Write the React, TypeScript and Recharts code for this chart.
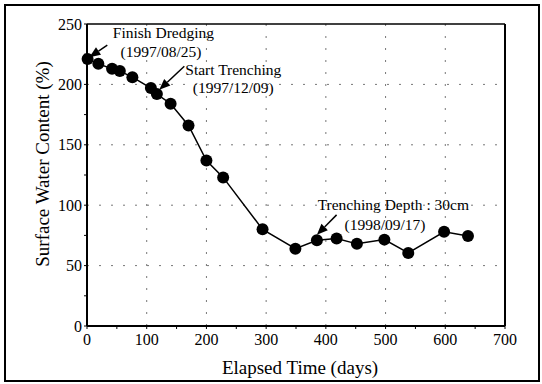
import React from 'react';
import {
  ComposedChart,
  Line,
  XAxis,
  YAxis,
  ReferenceLine,
  ReferenceDot,
  Label,
} from 'recharts';

const days = [1, 19, 42, 55, 76, 107, 117, 140, 170, 200, 228, 294, 349, 385, 418, 452, 498, 538, 598, 638];
const waterContent = [221, 217, 213, 211, 206, 197, 192, 184, 166, 137, 123, 80, 64, 71, 72.5, 68, 71.5, 60.5, 78, 74.5];

const xTicks = [0, 50, 100, 150, 200, 250, 300, 350, 400, 450, 500, 550, 600, 650, 700];
const yTicks = [0, 25, 50, 75, 100, 125, 150, 175, 200, 225, 250];
const xGrid = [100, 200, 300, 400, 500, 600];
const yGrid = [50, 100, 150, 200];

// annotation text (day, value, text)
const noteDays = [128, 124, 245, 245, 513, 499];
const noteValues = [243, 227, 212, 197.5, 100.5, 84];
const noteTexts = [
  'Finish Dredging',
  '(1997/08/25)',
  'Start Trenching',
  '(1997/12/09)',
  'Trenching Depth : 30cm',
  '(1998/09/17)',
];

// arrows: tail -> tip
const arrowFrom = [
  { x: 34, y: 232.5 },
  { x: 163, y: 215 },
  { x: 418, y: 92 },
];
const arrowTo = [
  { x: 4, y: 222.5 },
  { x: 121, y: 195.5 },
  { x: 385, y: 75.5 },
];

const data = days.map((d, i) => ({ day: d, value: waterContent[i] }));

const FONT = "'Liberation Serif', 'Times New Roman', serif";

const Arrow = (props: any) => {
  const { x1, y1, x2, y2 } = props;
  const ang = Math.atan2(y2 - y1, x2 - x1);
  const len = 11;
  const w = 4.5;
  const bx = x2 - len * Math.cos(ang);
  const by = y2 - len * Math.sin(ang);
  const px = -Math.sin(ang) * w;
  const py = Math.cos(ang) * w;
  return (
    <g>
      <line x1={x1} y1={y1} x2={bx} y2={by} stroke="#000" strokeWidth={1.5} />
      <polygon
        points={`${x2},${y2} ${bx + px},${by + py} ${bx - px},${by - py}`}
        fill="#000"
      />
    </g>
  );
};

export default function App() {
  return (
    <div style={{ position: 'absolute', left: 0, top: 0, width: 542, height: 384, background: '#fff' }}>
      <div
        style={{
          position: 'absolute',
          left: 4,
          top: 4,
          width: 532,
          height: 374,
          border: '2px solid #000',
        }}
      />
      <ComposedChart
        width={542}
        height={384}
        data={data}
        margin={{ top: 24, right: 37, left: 0, bottom: 0 }}
        style={{ position: 'absolute', left: 0, top: 0, fontFamily: FONT }}
      >
        {xGrid.map((v) => (
          <ReferenceLine key={`gx${v}`} x={v} stroke="#777" strokeDasharray="2 10" />
        ))}
        {yGrid.map((v) => (
          <ReferenceLine key={`gy${v}`} y={v} stroke="#777" strokeDasharray="2 10" />
        ))}
        <ReferenceLine y={250} stroke="#000" strokeWidth={1.5} />
        <ReferenceLine x={700} stroke="#000" strokeWidth={2} />
        <XAxis
          dataKey="day"
          type="number"
          domain={[0, 700]}
          ticks={xTicks}
          interval={0}
          tickFormatter={(v) => (v % 100 === 0 ? String(v) : '')}
          height={58}
          tickSize={3}
          tickMargin={5}
          axisLine={{ stroke: '#000', strokeWidth: 2 }}
          tickLine={{ stroke: '#000' }}
          tick={{ fill: '#000', fontSize: 16, fontFamily: FONT }}
        >
          <Label
            content={({ viewBox }: any) => (
              <text
                x={viewBox.x + viewBox.width / 2 + 4}
                y={viewBox.y + 41}
                textAnchor="middle"
                dominantBaseline="central"
                fontSize={19}
                fontFamily={FONT}
                fill="#000"
              >
                Elapsed Time (days)
              </text>
            )}
          />
        </XAxis>
        <YAxis
          type="number"
          domain={[0, 250]}
          ticks={yTicks}
          interval={0}
          tickFormatter={(v) => (v % 50 === 0 ? String(v) : '')}
          width={87}
          tickSize={3}
          tickMargin={2}
          axisLine={{ stroke: '#000', strokeWidth: 2 }}
          tickLine={{ stroke: '#000' }}
          tick={{ fill: '#000', fontSize: 16, fontFamily: FONT }}
        >
          <Label
            content={({ viewBox }: any) => {
              const cx = viewBox.x + 42;
              const cy = viewBox.y + viewBox.height / 2 - 11;
              return (
                <text
                  x={cx}
                  y={cy}
                  transform={`rotate(-90 ${cx} ${cy})`}
                  textAnchor="middle"
                  dominantBaseline="central"
                  fontSize={19}
                  fontFamily={FONT}
                  fill="#000"
                >
                  Surface Water Content (%)
                </text>
              );
            }}
          />
        </YAxis>
        <Line
          dataKey="value"
          stroke="#000"
          strokeWidth={1.5}
          dot={{ r: 6, fill: '#000', stroke: '#000', strokeWidth: 0 }}
          isAnimationActive={false}
        />
        {arrowFrom.map((p, i) => (
          <ReferenceLine
            key={`ar${i}`}
            segment={[p, arrowTo[i]]}
            shape={Arrow}
            ifOverflow="visible"
          />
        ))}
        {noteTexts.map((t, i) => (
          <ReferenceDot
            key={`nt${i}`}
            x={noteDays[i]}
            y={noteValues[i]}
            r={0}
            stroke="none"
            ifOverflow="visible"
            label={{
              value: t,
              position: 'center',
              fill: '#000',
              fontSize: 15.5,
              fontFamily: FONT,
            }}
          />
        ))}
      </ComposedChart>
    </div>
  );
}
